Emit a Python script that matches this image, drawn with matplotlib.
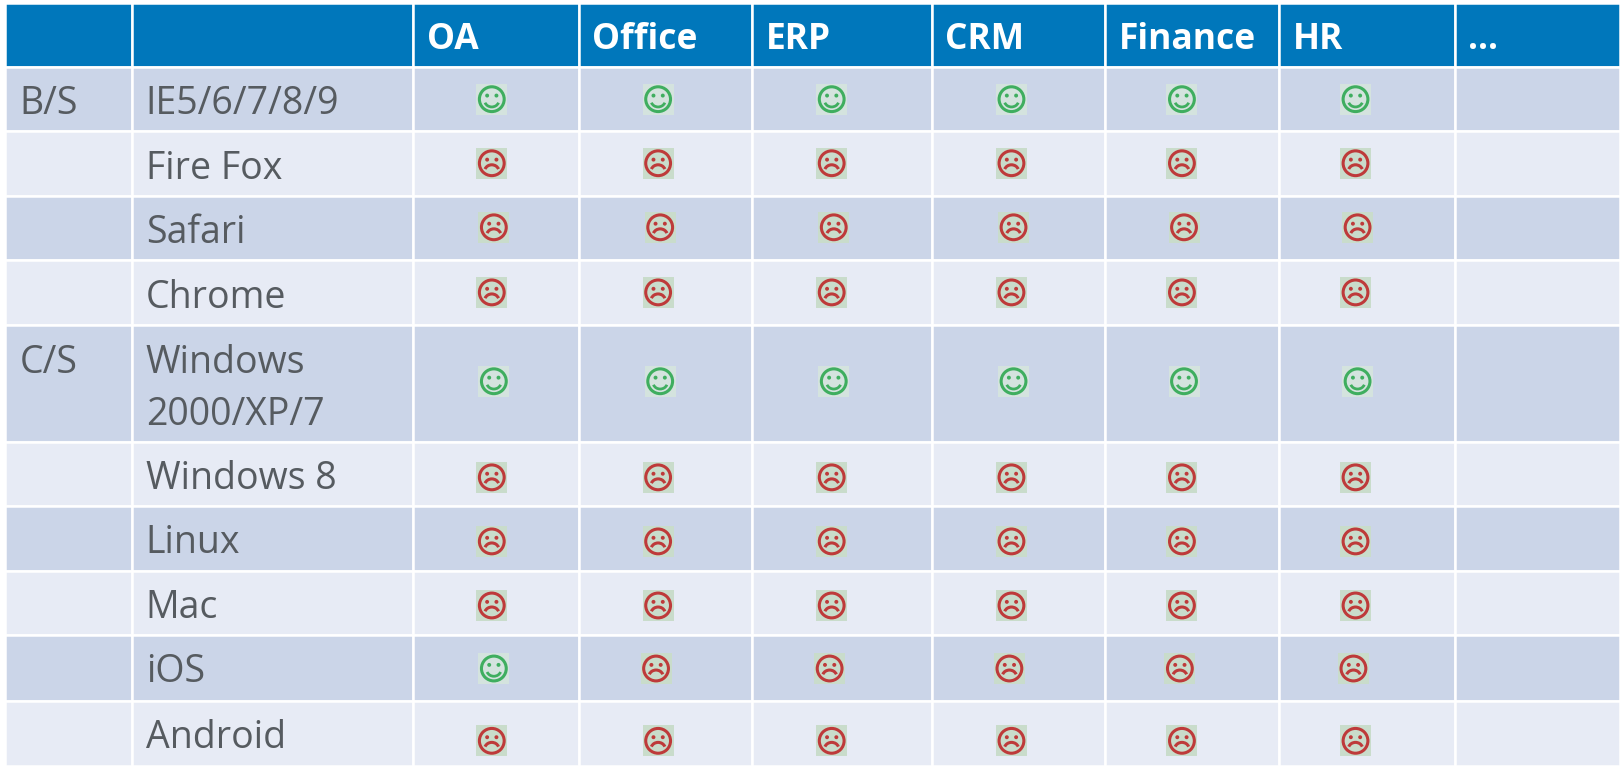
import matplotlib
matplotlib.use('Agg')
import matplotlib.pyplot as plt
from matplotlib.patches import Rectangle, Circle, Arc

# table content
columns = ['OA', 'Office', 'ERP', 'CRM', 'Finance', 'HR', '...']
groups = ['B/S', '', '', '', 'C/S', '', '', '', '', '']
platforms = ['IE5/6/7/8/9', 'Fire Fox', 'Safari', 'Chrome', 'Windows\n2000/XP/7',
             'Windows 8', 'Linux', 'Mac', 'iOS', 'Android']
# 1 = works (smile), 0 = does not work (frown)
oa = [1, 0, 0, 0, 1, 0, 0, 0, 1, 0]
office = [1, 0, 0, 0, 1, 0, 0, 0, 0, 0]
erp = [1, 0, 0, 0, 1, 0, 0, 0, 0, 0]
crm = [1, 0, 0, 0, 1, 0, 0, 0, 0, 0]
finance = [1, 0, 0, 0, 1, 0, 0, 0, 0, 0]
hr = [1, 0, 0, 0, 1, 0, 0, 0, 0, 0]
status = [oa, office, erp, crm, finance, hr]

# layout, in pixels of a 1568 wide view of the table
col_edges = [5, 127.5, 400, 560, 728, 902, 1070, 1238, 1408, 1568]
row_edges = [3, 64.5, 127, 189.5, 252, 315, 428, 490, 553, 615, 678, 741]
icon_x = [476, 637, 805, 979, 1144, 1312]
icon_y = [96, 158, 220, 283, 369, 462, 524, 586, 647, 717]
row_dx = [0, 0, 2, 0, 2, 0, 0, 0, -2, 0]
cell_dx = {(8, 0): 4}  # the iOS / OA icon sits off the row's line
baselines = [110, 173, 235, 298, 361, 473.5, 535.5, 598, 660, 723.5]

HEADER = '#0077BB'
DARK = '#CBD5E8'
LIGHT = '#E7EBF5'
TEXT = '#565B60'
GREEN = '#3FAE5F'
RED = '#BE3A3A'

plt.rcParams['font.family'] = ['Open Sans', 'DejaVu Sans']

fig = plt.figure(figsize=(16.2, 7.68), dpi=100)
ax = fig.add_axes([0, 0, 1, 1])
ax.set_xlim(0, 1568)
ax.set_ylim(743.3, 0)
ax.axis('off')


def draw_cell(x0, x1, y0, y1, color):
    ax.add_patch(Rectangle((x0, y0), x1 - x0, y1 - y0, facecolor=color, edgecolor='white', linewidth=1.8))


def draw_face(x, y, happy):
    color = GREEN if happy else RED
    back = '#D4E3DE' if happy else '#C9DCCB'
    ax.add_patch(Rectangle((x - 15, y - 15), 30, 30, facecolor=back, edgecolor='none', zorder=2))
    ax.add_patch(Circle((x, y), 12, facecolor='none', edgecolor=color, linewidth=2.2, zorder=3))
    ax.add_patch(Circle((x - 4.5, y - 3.5), 1.9, facecolor=color, edgecolor='none', zorder=3))
    ax.add_patch(Circle((x + 4.5, y - 3.5), 1.9, facecolor=color, edgecolor='none', zorder=3))
    if happy:
        ax.add_patch(Arc((x, y + 1), 14, 13, theta1=20, theta2=160, color=color, linewidth=2, zorder=3))
    else:
        ax.add_patch(Arc((x, y + 8), 14, 13, theta1=200, theta2=340, color=color, linewidth=2.2, zorder=3))


# header row
for c in range(len(col_edges) - 1):
    draw_cell(col_edges[c], col_edges[c + 1], row_edges[0], row_edges[1], HEADER)
for c, name in enumerate(columns):
    ax.text(col_edges[c + 2] + 13, 47, name, color='white', fontsize=25.5, fontweight='bold', va='baseline')

# body rows
for r in range(len(platforms)):
    color = DARK if r % 2 == 0 else LIGHT
    for c in range(len(col_edges) - 1):
        draw_cell(col_edges[c], col_edges[c + 1], row_edges[r + 1], row_edges[r + 2], color)
    ax.text(19, baselines[r], groups[r], color=TEXT, fontsize=27, va='baseline')
    lines = platforms[r].split('\n')
    for i, line in enumerate(lines):
        ax.text(141, baselines[r] + i * 50, line, color=TEXT, fontsize=27, va='baseline')
    for c in range(len(status)):
        x = icon_x[c] + row_dx[r] + cell_dx.get((r, c), 0)
        draw_face(x, icon_y[r], status[c][r] == 1)

fig.savefig('out.png', dpi=100, facecolor='white')
